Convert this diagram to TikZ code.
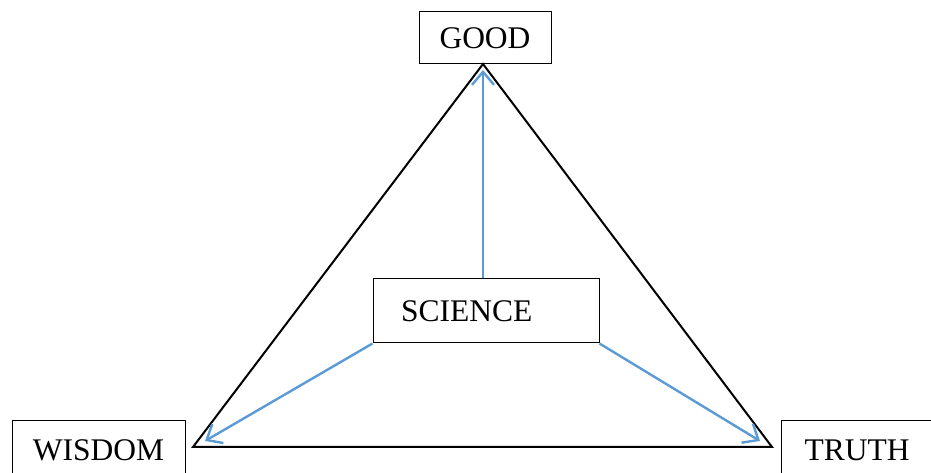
\documentclass[tikz,border=0pt]{standalone}
\usepackage{fontspec}
\setmainfont{Liberation Serif}
\usepackage{xcolor}
\usetikzlibrary{arrows.meta}
\definecolor{arrowblue}{RGB}{91,155,213}

\begin{document}
\begin{tikzpicture}[x=1pt,y=1pt,
  box/.style={draw,line width=1pt,inner sep=0pt,font=\fontsize{31.5}{36}\selectfont},
  link/.style={arrowblue,line width=2.4pt,-{Straight Barb[length=13pt,width=22pt,line width=2.4pt]}}]
\useasboundingbox (0,0) rectangle (931,473);
\clip (0,0) rectangle (931,473);
\node[box,minimum width=132pt,minimum height=52pt] (good) at (485,435) {GOOD};
\node[box,minimum width=226pt,minimum height=64pt,text width=170pt,inner xsep=28pt,align=left] (science) at (486,162) {SCIENCE};
\node[box,minimum width=173pt,minimum height=58pt] (wisdom) at (98.5,23) {WISDOM};
\node[box,minimum width=152pt,minimum height=58pt] (truth) at (857,23) {TRUTH};
% triangle
\coordinate (apex) at (483,409);
\coordinate (left) at (193,26);
\coordinate (right) at (772,26);
\draw[line width=2pt,line join=miter] (apex) -- (left) -- (right) -- cycle;
% arrows out of science
\coordinate (topend) at (483,403);
\coordinate (leftend) at (205,32);
\coordinate (rightend) at (760,32);
\draw[link] (science.north -| topend) -- (topend);
\draw[link] (science.south west) -- (leftend);
\draw[link] (science.south east) -- (rightend);
\end{tikzpicture}
\end{document}
